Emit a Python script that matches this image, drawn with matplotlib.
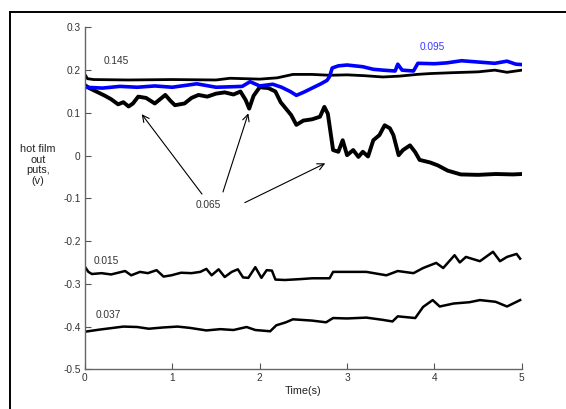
import matplotlib
matplotlib.use("Agg")
import matplotlib.pyplot as plt
from matplotlib.lines import Line2D

plt.rcParams['font.family'] = ['Liberation Sans', 'DejaVu Sans']

# trace readings (time in s, output in V)
t_145 = [0, 0.03, 0.1, 0.5, 1.0, 1.5, 1.66, 2.0, 2.2, 2.38, 2.6, 2.8, 3.0, 3.2, 3.41, 3.6, 3.8, 3.95, 4.2, 4.5, 4.69, 4.83, 5.0]
v_145 = [0.19, 0.18, 0.178, 0.177, 0.178, 0.177, 0.181, 0.179, 0.182, 0.19, 0.19, 0.188, 0.189, 0.187, 0.184, 0.186, 0.19, 0.192, 0.194, 0.196, 0.2, 0.195, 0.2]

t_095 = [0, 0.2, 0.4, 0.6, 0.8, 1.0, 1.28, 1.5, 1.66, 1.8, 1.89, 2.0, 2.15, 2.25, 2.35, 2.42, 2.5, 2.6, 2.7, 2.77, 2.8, 2.83, 2.9, 3.0, 3.18, 3.3, 3.41, 3.55, 3.58, 3.63, 3.76, 3.81, 4.0, 4.14, 4.31, 4.5, 4.69, 4.83, 4.93, 5.0]
v_095 = [0.16, 0.158, 0.162, 0.16, 0.163, 0.16, 0.168, 0.16, 0.161, 0.162, 0.173, 0.163, 0.167, 0.16, 0.15, 0.141, 0.148, 0.158, 0.168, 0.176, 0.185, 0.205, 0.21, 0.212, 0.208, 0.202, 0.2, 0.198, 0.214, 0.2, 0.198, 0.216, 0.215, 0.217, 0.222, 0.219, 0.216, 0.221, 0.214, 0.213]

t_065 = [0, 0.05, 0.11, 0.23, 0.3, 0.38, 0.44, 0.5, 0.55, 0.61, 0.7, 0.8, 0.86, 0.92, 0.98, 1.03, 1.14, 1.22, 1.3, 1.4, 1.5, 1.6, 1.7, 1.78, 1.84, 1.88, 1.93, 2.0, 2.1, 2.18, 2.24, 2.3, 2.36, 2.42, 2.5, 2.6, 2.69, 2.74, 2.78, 2.84, 2.9, 2.95, 3.0, 3.07, 3.13, 3.18, 3.24, 3.3, 3.37, 3.43, 3.49, 3.53, 3.59, 3.64, 3.72, 3.78, 3.83, 3.95, 4.04, 4.15, 4.3, 4.5, 4.7, 4.9, 5.0]
v_065 = [0.165, 0.158, 0.152, 0.14, 0.132, 0.12, 0.125, 0.115, 0.122, 0.138, 0.135, 0.122, 0.132, 0.142, 0.128, 0.118, 0.122, 0.135, 0.142, 0.138, 0.145, 0.148, 0.143, 0.15, 0.13, 0.11, 0.14, 0.16, 0.158, 0.15, 0.125, 0.11, 0.095, 0.072, 0.082, 0.085, 0.091, 0.114, 0.098, 0.013, 0.009, 0.036, 0.001, 0.013, -0.003, 0.009, -0.002, 0.036, 0.048, 0.071, 0.064, 0.048, 0.001, 0.013, 0.024, 0.008, -0.01, -0.016, -0.023, -0.035, -0.044, -0.045, -0.043, -0.044, -0.043]

t_015 = [0, 0.04, 0.08, 0.19, 0.3, 0.38, 0.46, 0.53, 0.63, 0.72, 0.82, 0.9, 0.99, 1.1, 1.22, 1.32, 1.39, 1.45, 1.53, 1.6, 1.68, 1.75, 1.81, 1.87, 1.95, 2.02, 2.08, 2.14, 2.18, 2.29, 2.46, 2.6, 2.8, 2.84, 3.0, 3.22, 3.45, 3.58, 3.76, 3.87, 4.02, 4.1, 4.23, 4.29, 4.36, 4.52, 4.67, 4.75, 4.83, 4.94, 4.98]
v_015 = [-0.26, -0.272, -0.277, -0.275, -0.278, -0.274, -0.27, -0.28, -0.272, -0.275, -0.268, -0.283, -0.28, -0.274, -0.275, -0.272, -0.265, -0.28, -0.266, -0.284, -0.272, -0.266, -0.285, -0.286, -0.261, -0.286, -0.268, -0.269, -0.29, -0.291, -0.289, -0.287, -0.287, -0.272, -0.272, -0.272, -0.28, -0.27, -0.275, -0.263, -0.251, -0.263, -0.233, -0.25, -0.237, -0.247, -0.225, -0.247, -0.237, -0.23, -0.241]

t_037 = [0, 0.17, 0.44, 0.6, 0.73, 0.9, 1.06, 1.2, 1.39, 1.55, 1.7, 1.85, 1.95, 2.12, 2.19, 2.3, 2.38, 2.6, 2.76, 2.84, 3.0, 3.22, 3.4, 3.52, 3.58, 3.78, 3.87, 3.98, 4.06, 4.22, 4.4, 4.52, 4.7, 4.83, 4.94, 4.98]
v_037 = [-0.412, -0.407, -0.4, -0.401, -0.405, -0.402, -0.4, -0.403, -0.409, -0.406, -0.408, -0.401, -0.408, -0.411, -0.397, -0.39, -0.383, -0.386, -0.39, -0.38, -0.381, -0.379, -0.384, -0.388, -0.376, -0.38, -0.354, -0.338, -0.353, -0.346, -0.343, -0.338, -0.342, -0.353, -0.342, -0.338]

labels = ['0.145', '0.095', '0.065', '0.015', '0.037']
label_pos = [(0.36, 0.221), (3.98, 0.254), (1.41, -0.115), (0.25, -0.247), (0.27, -0.373)]
label_colors = ['#333333', '#3a3aff', '#333333', '#333333', '#333333']

fig = plt.figure(figsize=(5.66, 4.09), dpi=100)
ax = fig.add_axes([0.150, 0.097, 0.772, 0.836])

ax.plot(t_037, v_037, color='black', lw=1.8)
ax.plot(t_015, v_015, color='black', lw=1.8)
ax.plot(t_145, v_145, color='black', lw=2.0)
ax.plot(t_065, v_065, color='black', lw=2.8)
ax.plot(t_095, v_095, color='blue', lw=2.6)

for txt, (x, y), c in zip(labels, label_pos, label_colors):
    ax.text(x, y, txt, fontsize=7.3, color=c, ha='center', va='center')

# arrows pointing at the 0.065 trace
arrow_tails = [(1.34, -0.09), (1.58, -0.085), (1.83, -0.11)]
arrow_heads = [(0.65, 0.097), (1.87, 0.099), (2.75, -0.018)]
for tail, head in zip(arrow_tails, arrow_heads):
    ax.annotate('', xy=head, xytext=tail,
                arrowprops=dict(arrowstyle='->', color='black', lw=0.8,
                                mutation_scale=12, shrinkA=0, shrinkB=0))

ax.set_xlim(0, 5)
ax.set_ylim(-0.5, 0.3)
ax.set_xticks([0, 1, 2, 3, 4, 5])
ax.set_yticks([-0.5, -0.4, -0.3, -0.2, -0.1, 0, 0.1, 0.2, 0.3])
ax.set_yticklabels(['-0.5', '-0.4', '-0.3', '-0.2', '-0.1', '0', '0.1', '0.2', '0.3'])
ax.tick_params(direction='in', length=4, width=0.8, labelsize=7.3,
               colors='#555555', labelcolor='#333333', pad=3)
for s in ['top', 'right']:
    ax.spines[s].set_visible(False)
for s in ['left', 'bottom']:
    ax.spines[s].set_color('#666666')
    ax.spines[s].set_linewidth(1.0)

ax.set_xlabel('Time(s)', fontsize=7.8, color='#222222', labelpad=2)
fig.text(38 / 566, 1 - 165 / 409, 'hot film\nout\nputs,\n(v)', fontsize=7.8,
         ha='center', va='center', linespacing=1.1, color='#222222')

# outer frame (left and top edges)
fig.add_artist(Line2D([10 / 566, 10 / 566], [0, 1 - 12 / 409], color='black', lw=1.4))
fig.add_artist(Line2D([10 / 566, 1], [1 - 12 / 409, 1 - 12 / 409], color='black', lw=1.4))

fig.savefig('out.png', dpi=100)
